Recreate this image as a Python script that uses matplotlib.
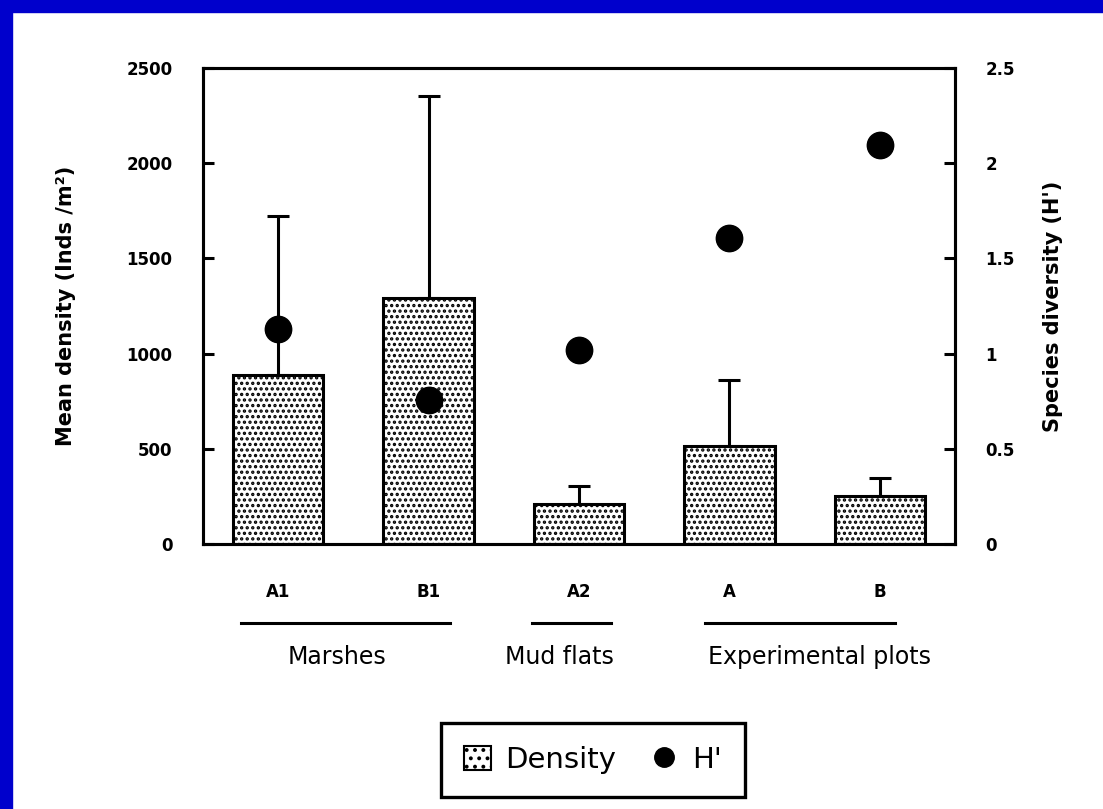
import matplotlib
matplotlib.use("Agg")
import matplotlib.pyplot as plt
from matplotlib.patches import Rectangle
from matplotlib.lines import Line2D

# data
sites = ["A1", "B1", "A2", "A", "B"]
density = [888, 1292, 210, 515, 252]
density_err = [835, 1061, 95, 346, 95]
diversity = [1.13, 0.756, 1.02, 1.607, 2.096]
groups = ["Marshes", "Mud flats", "Experimental plots"]

# layout of the group underlines / names (x in category units)
group_lines = [(-0.25, 1.14), (1.69, 2.21), (2.84, 4.10)]
group_centers = [0.39, 1.87, 3.60]

plt.rcParams["font.family"] = ["DejaVu Sans"]
plt.rcParams["hatch.linewidth"] = 1.6

fig = plt.figure(figsize=(11.03, 8.09), dpi=100)
fig.patch.set_facecolor("white")
# blue frame on left and top
fig.patches.append(Rectangle((0, 0), 12 / 1103, 1, transform=fig.transFigure,
                             color="#0000cc", zorder=0))
fig.patches.append(Rectangle((0, 1 - 12 / 809), 1, 12 / 809, transform=fig.transFigure,
                             color="#0000cc", zorder=0))

ax = fig.add_axes([203 / 1103, 1 - 544 / 809, 752 / 1103, 476 / 809])
x = list(range(len(sites)))

ax.bar(x, density, width=0.6, color="white", edgecolor="black", linewidth=2.2,
       hatch="...", zorder=2)
ax.errorbar(x, density, yerr=[[0] * len(x), density_err], fmt="none",
            ecolor="black", elinewidth=2.2, capsize=8, capthick=2.2, zorder=3)

ax.set_xlim(-0.5, 4.5)
ax.set_ylim(0, 2500)
ax.set_yticks([0, 500, 1000, 1500, 2000, 2500])
ax.set_xticks([])
for s in ax.spines.values():
    s.set_linewidth(2.2)
ax.tick_params(axis="y", direction="in", length=8, width=2.2, pad=22,
               labelsize=12)
for t in ax.get_yticklabels():
    t.set_fontweight("bold")
ax.set_ylabel("Mean density (Inds /m²)", fontsize=15, fontweight="bold", labelpad=36)

ax2 = ax.twinx()
ax2.plot(x, diversity, "o", color="black", markersize=19, zorder=4)
ax2.set_ylim(0, 2.5)
ax2.set_yticks([0, 0.5, 1, 1.5, 2, 2.5])
ax2.set_yticklabels(["0", "0.5", "1", "1.5", "2", "2.5"])
ax2.tick_params(axis="y", direction="in", length=8, width=2.2, pad=22,
                labelsize=12)
for t in ax2.get_yticklabels():
    t.set_fontweight("bold")
ax2.set_ylabel("Species diversity (H')", fontsize=15, fontweight="bold", labelpad=20)
for s in ax2.spines.values():
    s.set_linewidth(2.2)

# category labels, group underlines and group names
trans = ax.get_xaxis_transform()
for xi, name in zip(x, sites):
    ax.text(xi, -0.1, name, transform=trans, ha="center", va="center",
            fontsize=12, fontweight="bold")
for (a, b), c, g in zip(group_lines, group_centers, groups):
    ax.add_line(Line2D([a, b], [-0.165, -0.165], transform=trans,
                       color="black", lw=2.2, clip_on=False))
    ax.text(c, -0.238, g, transform=trans, ha="center", va="center",
            fontsize=17)

handles = [Rectangle((0, 0), 1, 1, facecolor="white", edgecolor="black",
                     hatch="..", linewidth=1.5),
           Line2D([], [], marker="o", color="black", ls="none", markersize=14)]
leg = fig.legend(handles, ["Density", "H'"], loc="center",
                 bbox_to_anchor=(593 / 1103, 1 - 760 / 809), ncol=2,
                 fontsize=21, frameon=True, fancybox=False, framealpha=1,
                 handlelength=0.9, handleheight=0.9, handletextpad=0.5,
                 columnspacing=1.2, borderpad=0.8)
leg.get_frame().set_edgecolor("black")
leg.get_frame().set_linewidth(2.4)

fig.savefig("out.png", dpi=100)
